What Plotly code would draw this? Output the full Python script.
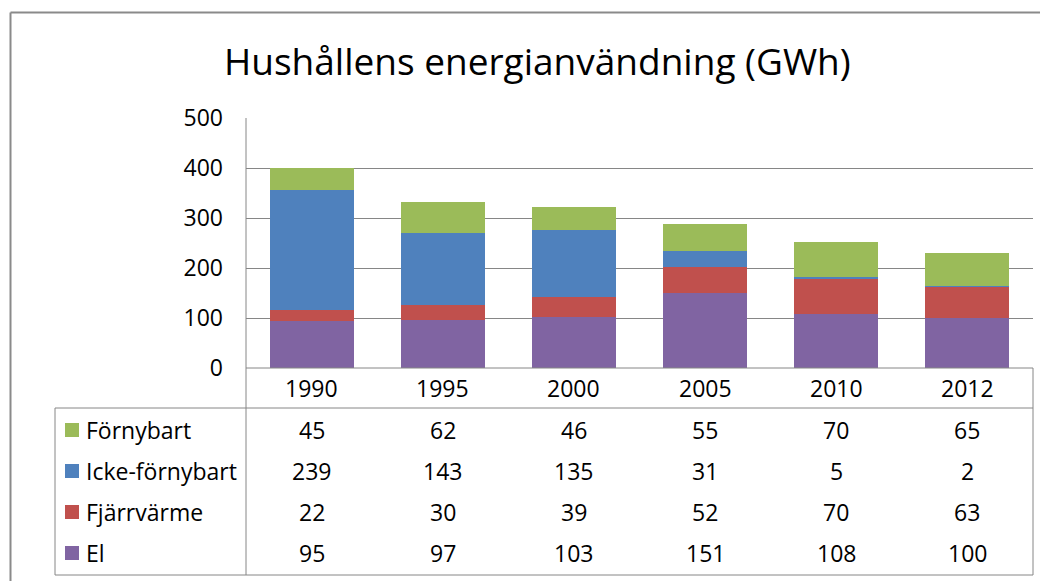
import plotly.graph_objects as go

years = ["1990", "1995", "2000", "2005", "2010", "2012"]
series_names = ["Förnybart", "Icke-förnybart", "Fjärrvärme", "El"]
fornybart = [45, 62, 46, 55, 70, 65]
icke_fornybart = [239, 143, 135, 31, 5, 2]
fjarrvarme = [22, 30, 39, 52, 70, 63]
el = [95, 97, 103, 151, 108, 100]
colors = {"Förnybart": "#9BBB59", "Icke-förnybart": "#4F81BD",
          "Fjärrvärme": "#C0504D", "El": "#8064A2"}
y_ticks = [0, 100, 200, 300, 400, 500]
title = "Hushållens energianvändning (GWh)"

values = {"Förnybart": fornybart, "Icke-förnybart": icke_fornybart,
          "Fjärrvärme": fjarrvarme, "El": el}

# page body has an 8px margin; figure fills the rest of the window
OFF = 8
W, H = 1048 - OFF, 581 - OFF
def px(x): return (x - OFF) / W
def py(y): return 1 - (y - OFF) / H

FONT = "Open Sans"
GRAY = "#868686"

fig = go.Figure()
for name in ["El", "Fjärrvärme", "Icke-förnybart", "Förnybart"]:
    fig.add_trace(go.Bar(x=years, y=values[name], name=name,
                         marker=dict(color=colors[name], line=dict(width=0)),
                         showlegend=False))

plot_l, plot_r, plot_t, plot_b = 246, 1033, 118, 368
tab_l, tab_b = 55, 575
head_b = 408
row_centers = [430, 471, 512, 553]

shapes = []
line = dict(color=GRAY, width=1)
# outer chart border
shapes.append(dict(type="line", xref="paper", yref="paper", x0=px(10.5), x1=px(1060), y0=py(12.5), y1=py(12.5), line=dict(color="#8a8a8a", width=2)))
shapes.append(dict(type="line", xref="paper", yref="paper", x0=px(10.5), x1=px(10.5), y0=py(12.5), y1=py(600), line=dict(color="#8a8a8a", width=2)))
# table lines
shapes.append(dict(type="line", xref="paper", yref="paper", x0=px(plot_l), x1=px(plot_l), y0=py(plot_t), y1=py(tab_b), line=line))
shapes.append(dict(type="line", xref="paper", yref="paper", x0=px(plot_l), x1=px(plot_r), y0=py(plot_b), y1=py(plot_b), line=line))
shapes.append(dict(type="line", xref="paper", yref="paper", x0=px(plot_r), x1=px(plot_r), y0=py(plot_b), y1=py(tab_b), line=line))
shapes.append(dict(type="line", xref="paper", yref="paper", x0=px(tab_l), x1=px(plot_r), y0=py(head_b), y1=py(head_b), line=line))
shapes.append(dict(type="line", xref="paper", yref="paper", x0=px(tab_l), x1=px(plot_r), y0=py(tab_b), y1=py(tab_b), line=line))
shapes.append(dict(type="line", xref="paper", yref="paper", x0=px(tab_l), x1=px(tab_l), y0=py(head_b), y1=py(tab_b), line=line))

annotations = []
font = dict(family=FONT, size=23, color="#000000")
for i, yr in enumerate(years):
    annotations.append(dict(x=i, xref="x", y=py(388), yref="paper", text=yr,
                            showarrow=False, font=font, xanchor="center", yanchor="middle"))
for name, yc in zip(series_names, row_centers):
    shapes.append(dict(type="rect", xref="paper", yref="paper",
                       x0=px(65), x1=px(79), y0=py(yc - 7), y1=py(yc + 7),
                       fillcolor=colors[name], line=dict(width=0)))
    annotations.append(dict(x=px(84), xref="paper", y=py(yc), yref="paper", text=name,
                            showarrow=False, font=font, xanchor="left", yanchor="middle"))
    for i, v in enumerate(values[name]):
        annotations.append(dict(x=i, xref="x", y=py(yc), yref="paper", text=str(v),
                                showarrow=False, font=font, xanchor="center", yanchor="middle"))
annotations.append(dict(x=px(537), xref="paper", y=py(60), yref="paper", text=title,
                        showarrow=False, font=dict(family=FONT, size=37, color="#000000"),
                        xanchor="center", yanchor="middle"))

fig.update_layout(
    width=W, height=H,
    margin=dict(l=0, r=0, t=0, b=0, autoexpand=False),
    paper_bgcolor="white", plot_bgcolor="white",
    barmode="stack", bargap=0.36,
    shapes=shapes, annotations=annotations,
    xaxis=dict(domain=[px(plot_l), px(plot_r)], type="category", categoryorder="array",
               categoryarray=years, range=[-0.5, 5.5], autorange=False,
               showticklabels=False, showgrid=False, automargin=False,
               zeroline=False, showline=False, fixedrange=True),
    yaxis=dict(domain=[py(plot_b), py(plot_t)], range=[0, 500], autorange=False,
               tickvals=y_ticks, automargin=False,
               showgrid=True, gridcolor=GRAY, gridwidth=1, zeroline=False,
               showline=False, ticks="", ticklabelstandoff=22,
               tickfont=dict(family=FONT, size=23, color="#000000"), fixedrange=True),
    font=dict(family=FONT),
)

fig.write_html("out.html")
